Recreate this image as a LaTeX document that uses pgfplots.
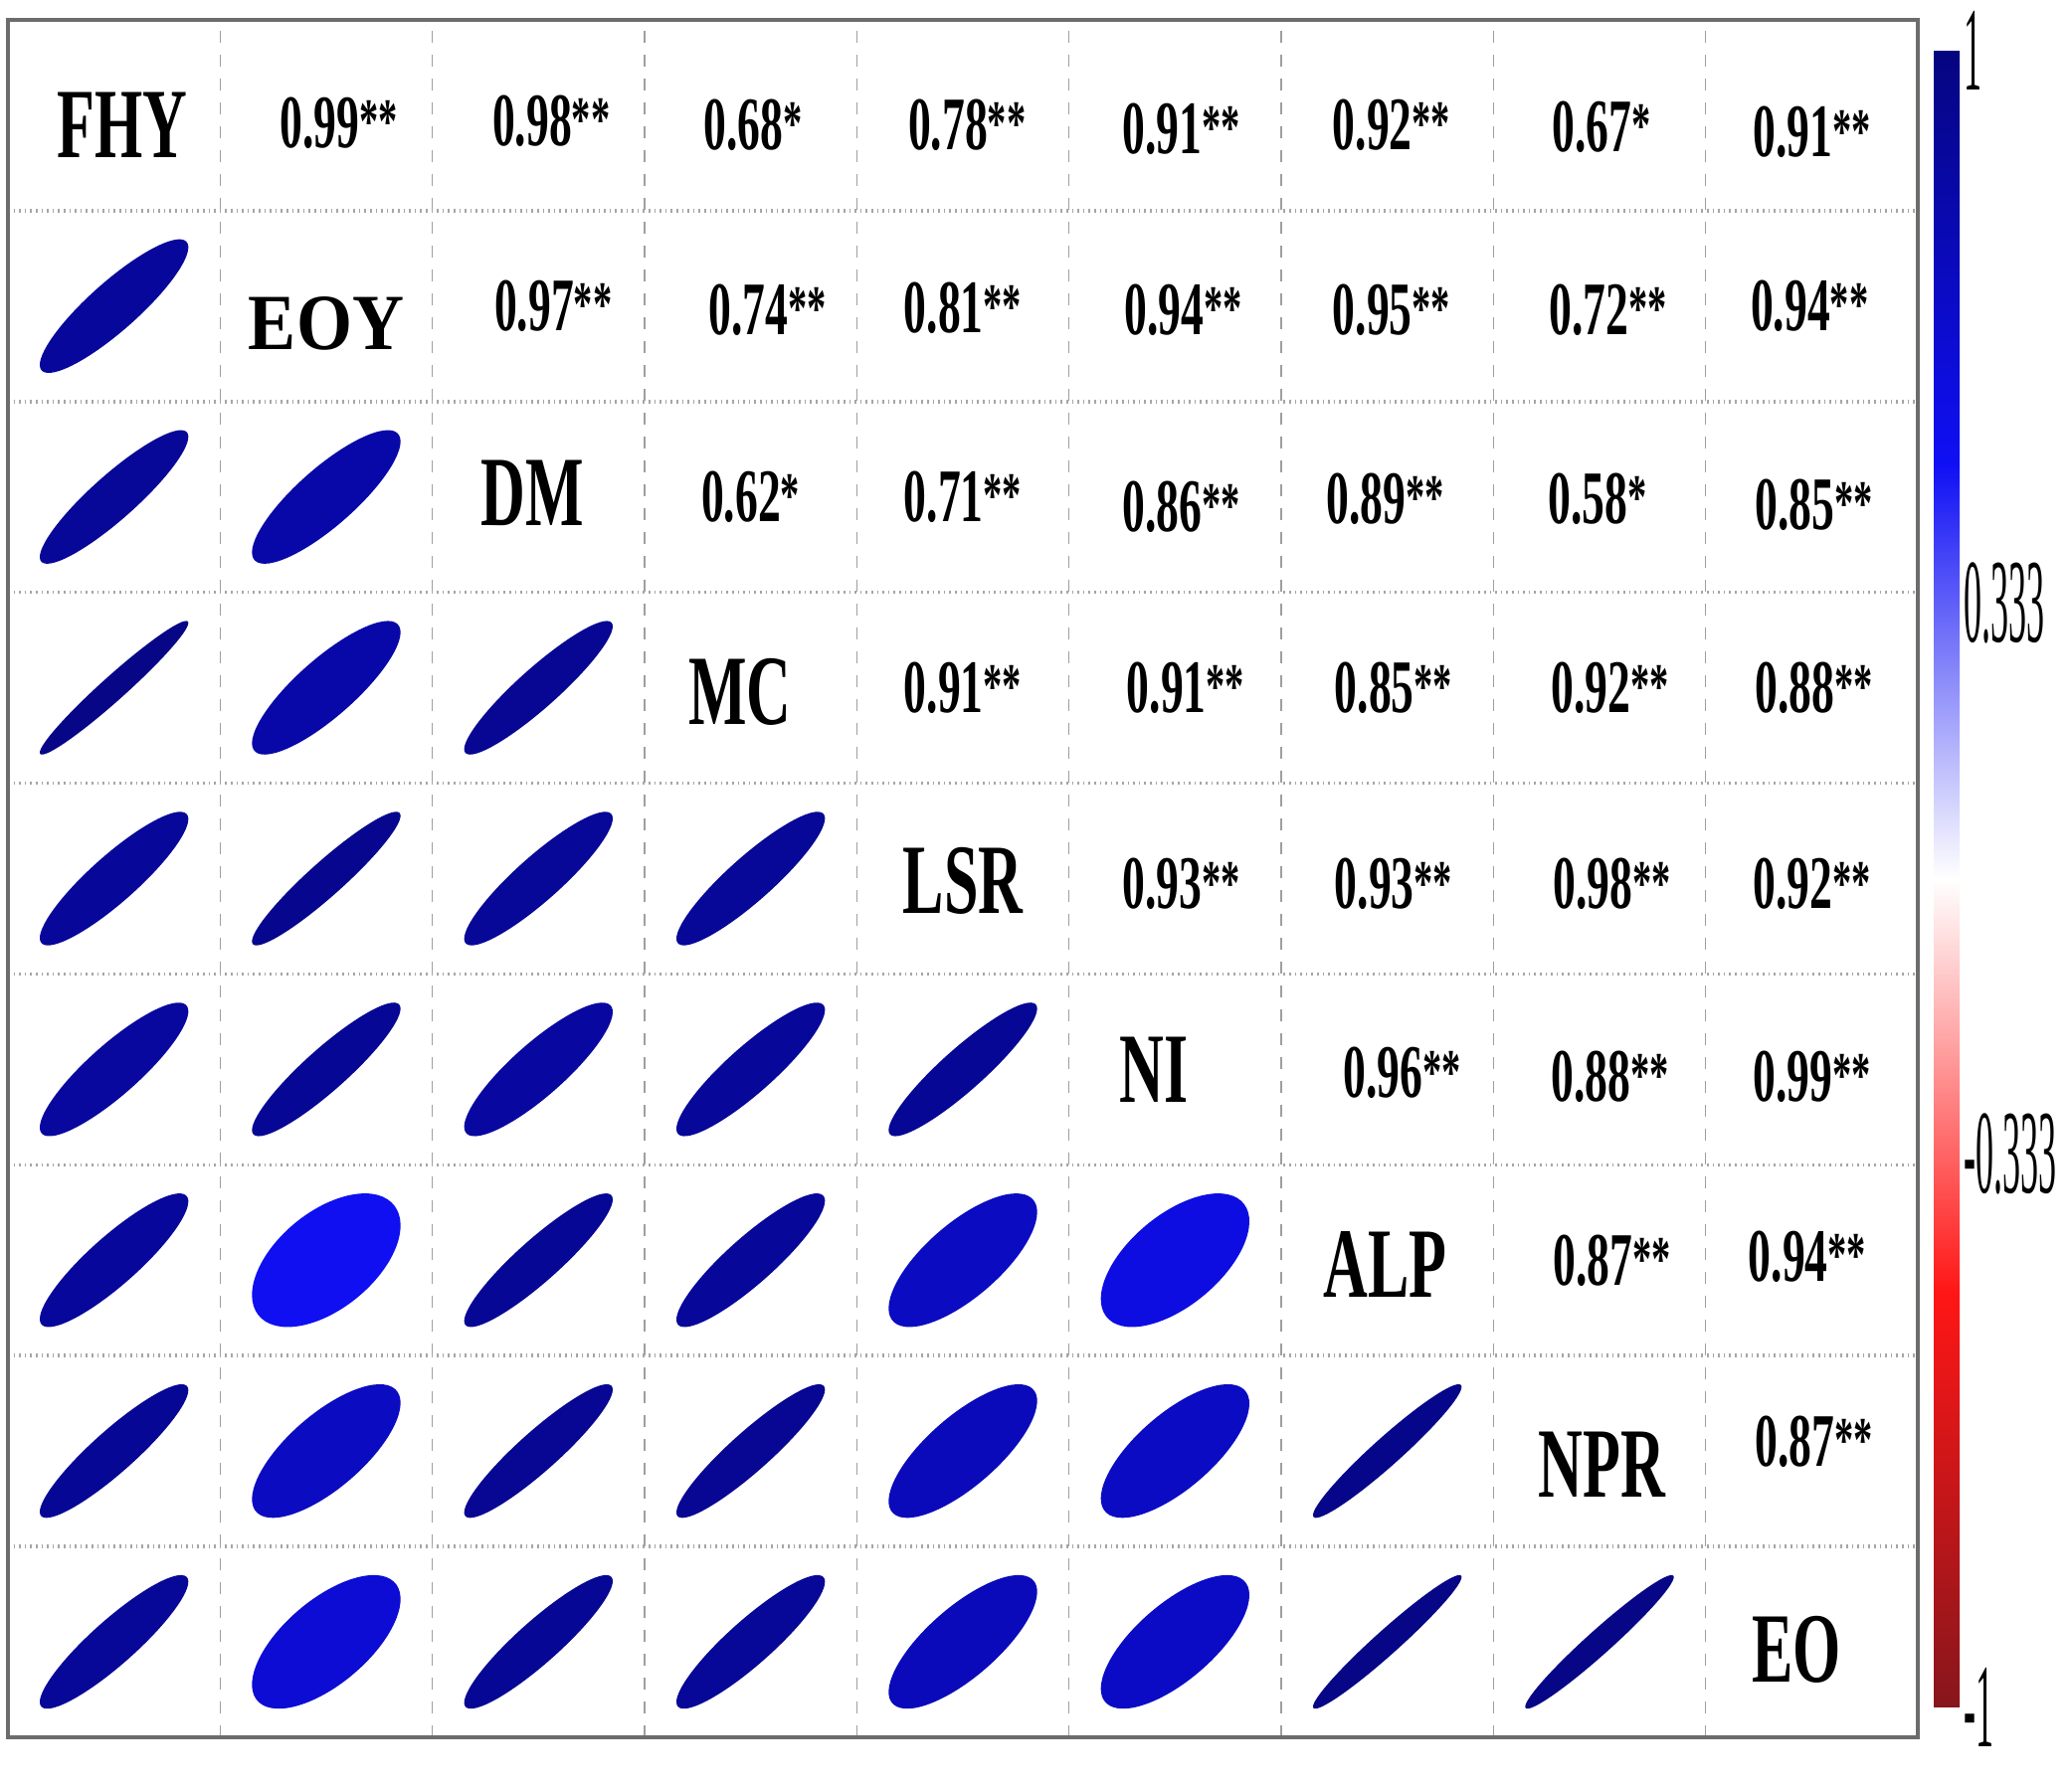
\documentclass[border=0pt]{standalone}
\usepackage{fontspec}
\setmainfont{Liberation Serif}
\usepackage{graphicx}
\usepackage{pgfplots}
\pgfplotsset{compat=1.18}
\usepackage{pgfplotstable}

% ellipse glyph for a correlation r, drawn in the unit cell of the axis
\pgfdeclareplotmark{corrEll}{%
  \pgfmathsetmacro\rr{\pgfplotspointmetatransformed/500-1}%
  \pgfmathsetmacro\eAx{0.35*sqrt((1+\rr)/2)*53.333}%
  \pgfmathsetmacro\eAy{0.35*sqrt((1+\rr)/2)*47.972}%
  \pgfmathsetmacro\eBx{0.35*sqrt((1-\rr)/2)*53.333}%
  \pgfmathsetmacro\eBy{0.35*sqrt((1-\rr)/2)*47.972}%
  \pgfpathellipse{\pgfpointorigin}{\pgfpoint{\eAx pt}{\eAy pt}}{\pgfpoint{-\eBx pt}{\eBy pt}}%
  \pgfusepathqfill}

\pgfplotstableread{
x y r
0.5 7.5 0.88
0.5 6.5 0.90
1.5 6.5 0.83
0.5 5.5 0.97
1.5 5.5 0.83
2.5 5.5 0.92
0.5 4.5 0.89
1.5 4.5 0.94
2.5 4.5 0.90
3.5 4.5 0.90
0.5 3.5 0.87
1.5 3.5 0.91
2.5 3.5 0.86
3.5 3.5 0.89
4.5 3.5 0.91
0.5 2.5 0.88
1.5 2.5 0.52
2.5 2.5 0.91
3.5 2.5 0.89
4.5 2.5 0.72
5.5 2.5 0.58
0.5 1.5 0.91
1.5 1.5 0.72
2.5 1.5 0.92
3.5 1.5 0.92
4.5 1.5 0.75
5.5 1.5 0.71
6.5 1.5 0.96
0.5 0.5 0.90
1.5 0.5 0.64
2.5 0.5 0.91
3.5 0.5 0.90
4.5 0.5 0.75
5.5 0.5 0.70
6.5 0.5 0.97
7.5 0.5 0.97
}\ellipses

\newcommand{\numtxt}[2]{\scalebox{0.6}[1]{\fontsize{19}{19}\selectfont\bfseries #1{\fontsize{16}{16}\selectfont\raisebox{1.2pt}{#2}}}}
\newcommand{\labtxt}[1]{\scalebox{0.62}[1]{\fontsize{25}{25}\selectfont\bfseries #1}}
\newcommand{\cbtxt}[1]{\scalebox{0.3}[1]{\fontsize{30}{30}\selectfont #1}}

\begin{document}
\begin{tikzpicture}
\useasboundingbox (0,0) rectangle (520.75pt,449.5pt);
\begin{axis}[
  at={(2pt,12.75pt)}, anchor=south west,
  scale only axis, width=480pt, height=431.75pt,
  xmin=0, xmax=9, ymin=0, ymax=9,
  xtick={1,...,8}, ytick={1,...,8},
  xticklabels={}, yticklabels={},
  major tick length=0pt,
  grid=major,
  x grid style={gray!75, dashed, line width=0.4pt},
  y grid style={gray!70, densely dotted, line width=0.9pt},
  axis line style={gray!85!black, line width=0.8pt},
  colormap={corr}{rgb255(0)=(135,22,28) rgb255(1)=(255,22,22) rgb255(2)=(255,255,255) rgb255(3)=(15,15,245) rgb255(4)=(5,5,128)},
  point meta min=-1, point meta max=1,
  colorbar,
  colorbar style={
    at={(parent axis.east)}, anchor=west, xshift=-4.5pt,
    scale only axis, width=6.5pt, height=416.5pt,
    ytick={-1,-0.333,0.333,1},
    yticklabels={\cbtxt{-1},\cbtxt{-0.333},\cbtxt{0.333},\cbtxt{1}},
    yticklabel style={inner sep=0pt, xshift=1pt},
    major tick length=0pt,
    axis line style={draw=none},
  },
  every node near coord/.append style={anchor=center, inner sep=0pt, text=black, opacity=1, text opacity=1, fill opacity=1},
]
% ellipses (lower triangle)
\addplot[scatter, only marks, mark=corrEll, point meta=explicit]
  table[x=x, y=y, meta=r] {\ellipses};

% correlation coefficients (upper triangle), significant at 0.01 (**)
\addplot[only marks, mark=*, mark size=0pt, mark options={draw=none, fill=none},
  point meta=explicit symbolic, nodes near coords={\numtxt{\pgfplotspointmeta}{**}}]
  coordinates {
  (1.56,8.46) [0.99] (2.56,8.47) [0.98] (4.52,8.45) [0.78]
  (5.53,8.43) [0.91] (6.52,8.45) [0.92] (8.5,8.41) [0.91]
  (2.57,7.5) [0.97] (3.58,7.48) [0.74] (4.5,7.49) [0.81] (5.54,7.48) [0.94]
  (6.52,7.48) [0.95] (7.54,7.48) [0.72] (8.49,7.5) [0.94]
  (4.5,6.5) [0.71] (5.53,6.45) [0.86] (6.49,6.49) [0.89]
  (8.51,6.46) [0.85]
  (4.5,5.5) [0.91] (5.55,5.5) [0.91] (6.53,5.5) [0.85] (7.55,5.5) [0.92] (8.51,5.5) [0.88]
  (5.53,4.47) [0.93] (6.53,4.47) [0.93] (7.56,4.47) [0.98] (8.5,4.47) [0.92]
  (6.57,3.48) [0.96] (7.55,3.46) [0.88] (8.5,3.46) [0.99]
  (7.56,2.5) [0.87] (8.48,2.52) [0.94]
  (8.51,1.55) [0.87]
  };
% significant at 0.05 (*)
\addplot[only marks, mark=*, mark size=0pt, mark options={draw=none, fill=none},
  point meta=explicit symbolic, nodes near coords={\numtxt{\pgfplotspointmeta}{*}}]
  coordinates {
  (3.51,8.45) [0.68] (7.51,8.44) [0.67] (3.5,6.5) [0.62] (7.49,6.49) [0.58]
  };

% variable names (diagonal)
\addplot[only marks, mark=*, mark size=0pt, mark options={draw=none, fill=none},
  point meta=explicit symbolic, nodes near coords={\labtxt{\pgfplotspointmeta}}]
  coordinates {
  (0.54,8.45) [FHY] (2.47,6.52) [DM] (3.45,5.48) [MC] (4.5,4.49) [LSR]
  (5.4,3.5) [NI] (6.49,2.48) [ALP] (7.51,1.43) [NPR] (8.43,0.46) [EO]
  };
\addplot[only marks, mark=*, mark size=0pt, mark options={draw=none, fill=none},
  point meta=explicit symbolic,
  nodes near coords={\scalebox{0.9}[1]{\fontsize{20}{20}\selectfont\bfseries\pgfplotspointmeta}}]
  coordinates { (1.5,7.41) [EOY] };
\end{axis}
\end{tikzpicture}
\end{document}
